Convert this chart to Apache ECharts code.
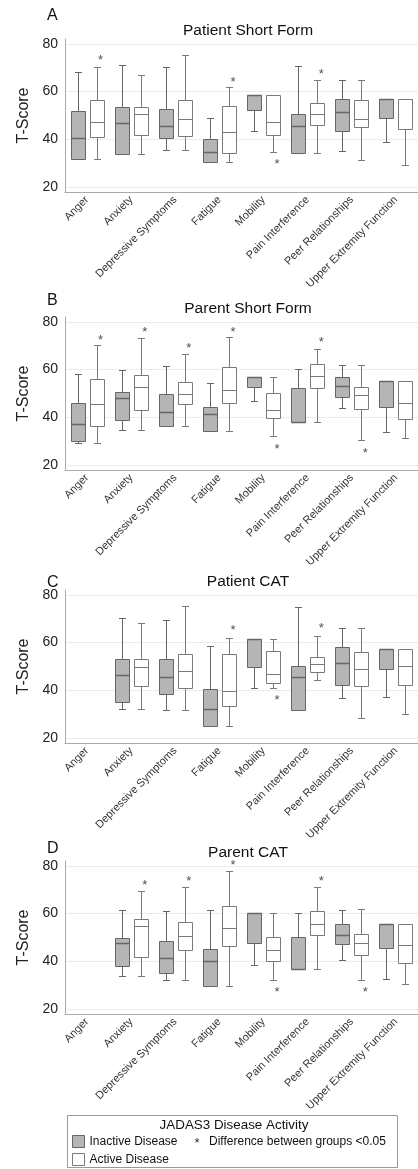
<!DOCTYPE html>
<html>
<head>
<meta charset="utf-8">
<script src="https://cdn.jsdelivr.net/npm/echarts@6/dist/echarts.min.js"></script>
<style>
  html, body { margin: 0; padding: 0; background: #fff; }
  #chart { width: 418px; height: 1169px; }
</style>
</head>
<body>
<div id="chart"></div>
<script>
// categories (same for every panel)
const categories = ['Anger', 'Anxiety', 'Depressive Symptoms', 'Fatigue', 'Mobility',
  'Pain Interference', 'Peer Relationships', 'Upper Extremity Function']

const panelLetters = ['A', 'B', 'C', 'D']
const panelTitles = ['Patient Short Form', 'Parent Short Form', 'Patient CAT', 'Parent CAT']

// [min, Q1, median, Q3, max] per category, null = no data
const inactiveA = [
  [32, 32, 40.5, 52, 68], [34, 34, 47, 53.5, 71], [35.5, 40.5, 45.7, 52.6, 70.2], [30.7, 30.7, 34.8, 40.1, 48.9],
  [43.7, 52.5, 58.6, 58.6, 58.6], [34.3, 34.3, 45.4, 50.6, 70.7], [35, 43.6, 51.3, 57, 64.8], [38.8, 49.1, 57, 57, 57]
]
const activeA = [
  [31.8, 41.2, 47.4, 56.4, 70.4], [34, 41.8, 50.5, 53.4, 66.8], [35.5, 41.4, 48.5, 56.5, 75.5], [30.7, 34.5, 43, 54, 61.9],
  [34.9, 41.9, 47.4, 58.6, 58.6], [34.3, 46.1, 50.5, 55.4, 64.8], [31.2, 45, 48.4, 56.4, 64.8], [29.4, 44.4, 57, 57, 57]
]
const starsA = [74.8, null, null, 65.5, 31.2, 68.9, null, null]

const inactiveB = [
  [29.1, 30.3, 37.4, 46, 58.2], [34.6, 39.1, 48.1, 50.5, 59.9], [36.5, 36.5, 42.4, 49.8, 61.4], [34.3, 34.3, 41.4, 44.4, 54.2],
  [47, 52.8, 56.7, 56.7, 56.7], [38, 38, 38, 52.5, 60.1], [44.1, 48.4, 53.3, 56.7, 62.1], [33.8, 44.5, 55.2, 55.2, 55.2]
]
const activeB = [
  [29.1, 36.3, 45.7, 55.9, 70.1], [34.6, 43, 52.6, 57.7, 73.3], [36.5, 45.5, 49.9, 54.9, 66.4], [34.3, 46.1, 51.3, 61, 73.8],
  [32.1, 39.9, 43.3, 50.2, 56.7], [38, 52.3, 57.3, 62.3, 68.8], [30.4, 43.5, 49.4, 52.6, 62.1], [31.4, 39.4, 46.2, 55.2, 55.2]
]
const starsB = [74, 77.4, 70.5, 77.3, 28.3, 72.9, 26.8, null]

const inactiveC = [
  null, [32.1, 35.3, 46.6, 53.1, 70.4], [31.7, 38.3, 45.4, 53.1, 69.4], [25.3, 25.3, 32.1, 40.6, 58.7],
  [41.1, 50, 61.6, 61.6, 61.6], [32, 32, 45.7, 50.4, 75], [37, 42.1, 51.3, 58.3, 66], [37.3, 49.1, 57.3, 57.3, 57.3]
]
const activeC = [
  null, [32.1, 41.9, 49.7, 53, 68], [31.7, 41.1, 48, 55.1, 75.4], [25.3, 33.6, 39.9, 55.1, 62],
  [41.1, 43, 46.9, 56.4, 61.6], [44.3, 47.6, 50.9, 54.1, 62.9], [28.6, 41.9, 48.9, 56, 66], [30.3, 42.3, 50.3, 57.3, 57.3]
]
const starsC = [null, null, null, 66.6, 37.4, 67.6, null, null]

const inactiveD = [
  null, [33.8, 38.2, 47.7, 49.8, 61.7], [32.2, 35, 41.5, 48.5, 61.1], [29.9, 29.9, 40.1, 45, 61.7],
  [38.6, 47.7, 60.3, 60.3, 60.3], [36.9, 36.9, 36.9, 50.2, 60.4], [40.7, 47.2, 51.1, 55.7, 61.4], [32.5, 45.7, 55.6, 55.6, 55.6]
]
const activeD = [
  null, [33.8, 42, 54.8, 57.6, 69.5], [32.2, 44.8, 50.6, 56.5, 71.1], [29.9, 46.4, 53.9, 63, 77.7],
  [32.3, 40.3, 44.7, 50.4, 60.3], [36.9, 50.9, 55.5, 61, 71.1], [32.2, 42.8, 47.5, 51.3, 61.8], [30.6, 39.4, 47, 55.6, 55.6]
]
const starsD = [null, 73.5, 75, 81.7, 28.5, 75.3, 28.5, null]

const yTicks = [20, 40, 60, 80]

const inactive = [inactiveA, inactiveB, inactiveC, inactiveD]
const active = [activeA, activeB, activeC, activeD]
const stars = [starsA, starsB, starsC, starsD]

const font = 'Liberation Sans, Arial, sans-serif'
const gridLeft = 65
const gridWidth = 358
const gridTops = [39, 317, 590, 861]
const gridHeight = 153
const letterY = [16, 301, 583, 848.5]

const inactiveFill = '#b5b5b5', inactiveLine = '#666'
const activeFill = '#fff', activeLine = '#7a7a7a'

// two boxes side by side in each category band
const band = gridWidth / categories.length
const avail = band * 0.8 - 2
const gap = avail / 2 * 0.3
const boxW = Math.round((avail - gap) / 2)
const boxOffset = (gap + boxW) / 2

const crisp = v => Math.round(v) + 0.5

function boxRenderer (side, fill, stroke, medianWidth) {
  return function (params, api) {
    const v = [1, 2, 3, 4, 5].map(k => api.value(k))
    if (v.some(isNaN)) return null
    const pts = v.map(val => api.coord([api.value(0), val]))
    const cx = crisp(pts[0][0] + side * boxOffset)
    const y = pts.map(p => crisp(p[1]))
    const half = boxW / 2, cap = boxW / 4
    const line = (x1, y1, x2, y2, w) => ({
      type: 'line', shape: { x1, y1, x2, y2 }, style: { stroke, lineWidth: w || 1 }
    })
    return {
      type: 'group',
      children: [
        line(cx, y[4], cx, y[3]),
        line(cx, y[1], cx, y[0]),
        line(cx - cap, y[4], cx + cap, y[4]),
        line(cx - cap, y[0], cx + cap, y[0]),
        { type: 'rect', shape: { x: cx - half, y: y[3], width: boxW, height: y[1] - y[3] },
          style: { fill, stroke, lineWidth: 1 } },
        line(cx - half, y[2], cx + half, y[2], medianWidth)
      ]
    }
  }
}

const toRows = list => list.map((d, k) => d ? [k].concat(d) : [k, '-', '-', '-', '-', '-'])

let grids = [], xAxes = [], yAxes = [], series = [], titles = [], letters = []
gridTops.forEach((top, i) => {
  grids.push({ left: gridLeft, top: top, width: gridWidth, height: gridHeight })
  xAxes.push({
    type: 'category', gridIndex: i, data: categories,
    axisLine: { lineStyle: { color: '#aaa' } },
    axisTick: { show: false },
    axisLabel: { rotate: 45, fontSize: 11, color: '#333', fontFamily: font, margin: 6, interval: 0 }
  })
  yAxes.push({
    type: 'value', gridIndex: i, min: 18, max: 82,
    name: 'T-Score', nameLocation: 'middle', nameGap: 33,
    nameTextStyle: { fontSize: 16, color: '#222', fontFamily: font },
    axisLine: { show: true, lineStyle: { color: '#aaa' } },
    axisTick: { show: false, customValues: yTicks },
    axisLabel: { customValues: yTicks, fontSize: 14, color: '#222', fontFamily: font, margin: 7 },
    splitLine: { show: true, lineStyle: { color: '#ececec' } }
  })
  titles.push({
    text: panelTitles[i], left: gridLeft + gridWidth / 2 - 1, top: top - 21, textAlign: 'center',
    textStyle: { fontSize: 15.5, fontWeight: 'normal', color: '#111', fontFamily: font }
  })
  letters.push({
    type: 'text', x: 47, y: letterY[i],
    style: { text: panelLetters[i], font: '16px ' + font, fill: '#111', verticalAlign: 'middle' }
  })
  series.push({
    name: 'Inactive Disease', type: 'custom', xAxisIndex: i, yAxisIndex: i,
    itemStyle: { color: inactiveFill, borderColor: inactiveLine },
    encode: { x: 0, y: [1, 2, 3, 4, 5] }, silent: true,
    renderItem: boxRenderer(-1, inactiveFill, inactiveLine, 1.5),
    data: toRows(inactive[i])
  })
  series.push({
    name: 'Active Disease', type: 'custom', xAxisIndex: i, yAxisIndex: i,
    itemStyle: { color: activeFill, borderColor: activeLine },
    encode: { x: 0, y: [1, 2, 3, 4, 5] }, silent: true,
    renderItem: boxRenderer(1, activeFill, activeLine, 1),
    data: toRows(active[i])
  })
  series.push({
    type: 'scatter', xAxisIndex: i, yAxisIndex: i, symbolSize: 1,
    itemStyle: { color: 'rgba(0,0,0,0)' }, silent: true,
    label: {
      show: true, position: 'inside', formatter: '*', offset: [boxOffset + 4, 4],
      fontSize: 13, color: '#222', fontFamily: font
    },
    data: stars[i].map((v, k) => [k, v == null ? '-' : v])
  })
})

const legendBase = {
  orient: 'vertical', left: 67, icon: 'rect', selectedMode: false,
  itemWidth: 12, itemHeight: 12, itemTextGap: 7,
  textStyle: { fontSize: 12, color: '#111', fontFamily: font }
}

const chart = echarts.init(document.getElementById('chart'))
chart.setOption({
  animation: false,
  title: titles,
  grid: grids,
  xAxis: xAxes,
  yAxis: yAxes,
  series: series,
  legend: [
    Object.assign({}, legendBase, { top: 1130, data: [{ name: 'Inactive Disease',
      itemStyle: { color: inactiveFill, borderColor: inactiveLine, borderWidth: 1 } }] }),
    Object.assign({}, legendBase, { top: 1148, data: [{ name: 'Active Disease',
      itemStyle: { color: activeFill, borderColor: activeLine, borderWidth: 1 } }] })
  ],
  graphic: letters.concat([
    { type: 'rect', shape: { x: 67.5, y: 1115.5, width: 330, height: 52 }, style: { fill: 'none', stroke: '#999', lineWidth: 1 } },
    { type: 'text', x: 234, y: 1125, style: { text: 'JADAS3 Disease Activity', font: '13.4px ' + font, fill: '#111', align: 'center', verticalAlign: 'middle' } },
    { type: 'text', x: 197, y: 1144, style: { text: '*', font: '12px ' + font, fill: '#222', align: 'center', verticalAlign: 'middle' } },
    { type: 'text', x: 209, y: 1141.5, style: { text: 'Difference between groups <0.05', font: '12px ' + font, fill: '#111', align: 'left', verticalAlign: 'middle' } }
  ])
})
</script>
</body>
</html>
